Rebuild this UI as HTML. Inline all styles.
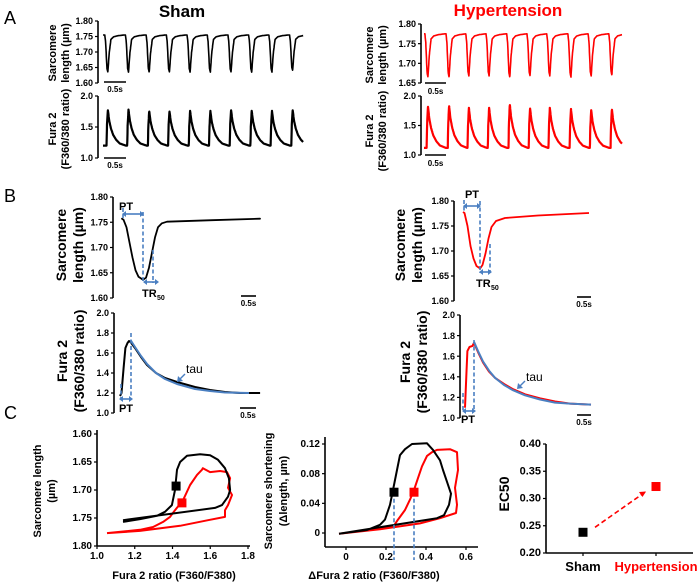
<!DOCTYPE html>
<html><head><meta charset="utf-8"><style>
html,body{margin:0;padding:0;background:#fff;}
svg{display:block;font-family:"Liberation Sans",Arial,sans-serif;}
</style></head><body>
<svg id="chart" width="700" height="583" viewBox="0 0 700 583" xmlns="http://www.w3.org/2000/svg">
<text x="4" y="24" font-size="18">A</text>
<text x="4" y="202" font-size="18">B</text>
<text x="4" y="419" font-size="18">C</text>
<text x="182" y="17" font-size="17" font-weight="bold" text-anchor="middle">Sham</text>
<text x="508" y="16" font-size="17" font-weight="bold" fill="#f00" text-anchor="middle">Hypertension</text>
</svg>
<script>
// ---------- data ----------
const shamBeatTimes=[0.11,0.58,1.05,1.51,1.98,2.44,2.91,3.38,3.84,4.31];
const shamSLRest=1.755, shamSLMin=[1.635,1.635,1.635,1.635,1.635,1.635,1.635,1.635,1.635,1.64];
const shamFuraBase=1.2, shamFuraPeak=[1.78,1.78,1.76,1.76,1.76,1.76,1.78,1.76,1.76,1.78];
const htBeatTimes=[0.09,0.57,1.02,1.48,1.95,2.41,2.86,3.34,3.80,4.27];
const htSLRest=1.775, htSLMin=[1.665,1.665,1.668,1.668,1.665,1.668,1.668,1.665,1.668,1.67];
const htFuraBase=1.12, htFuraPeak=[1.83,1.84,1.8,1.8,1.86,1.8,1.8,1.78,1.76,1.78];
const slTplT=[0,0.02,0.05,0.07,0.10,0.14,0.2,0.3,0.45];
const slTplF=[0,0.2,0.9,1,0.5,0.12,0.05,0.02,0];
const fuTplT=[0,0.01,0.03,0.06,0.1,0.15,0.22,0.3,0.44];
const fuTplF=[0,0.55,1,0.7,0.48,0.3,0.16,0.06,0];

const bShamSLT=[0,0.05,0.15,0.25,0.35,0.45,0.55,0.7,0.8,0.9,1.0,1.1,1.2,1.33,1.5,3,4.6];
const bShamSLV=[1.757,1.755,1.74,1.71,1.68,1.655,1.642,1.636,1.64,1.66,1.69,1.72,1.74,1.748,1.751,1.754,1.757];
const bShamFuT=[0,0.05,0.12,0.18,0.25,0.3,0.35,0.5,0.7,0.9,1.2,1.5,1.9,2.5,3.0,3.5,4.0,4.67];
const bShamFuV=[1.17,1.2,1.45,1.65,1.70,1.72,1.71,1.65,1.56,1.48,1.40,1.35,1.31,1.26,1.23,1.21,1.20,1.20];
const bShamFitT=[0.35,0.5,0.7,0.9,1.2,1.5,1.9,2.5,3,3.5,4.3];
const bShamFitV=[1.73,1.66,1.57,1.49,1.40,1.34,1.29,1.24,1.22,1.205,1.20];
const bHtSLT=[0,0.05,0.15,0.25,0.35,0.45,0.57,0.65,0.75,0.85,0.95,1.1,1.4,2.5,4.2];
const bHtSLV=[1.778,1.776,1.75,1.71,1.685,1.67,1.665,1.672,1.695,1.725,1.748,1.76,1.766,1.771,1.776];
const bHtFuT=[0,0.05,0.08,0.15,0.25,0.3,0.45,0.6,0.8,1.0,1.3,1.6,2.0,2.5,3,3.5,4.2];
const bHtFuV=[1.1,1.45,1.65,1.69,1.70,1.73,1.63,1.54,1.45,1.39,1.33,1.28,1.23,1.19,1.16,1.14,1.13];
const bHtFitT=[0.3,0.45,0.6,0.8,1.0,1.3,1.6,2.0,2.5,3,3.5,4.2];
const bHtFitV=[1.74,1.64,1.55,1.46,1.39,1.32,1.27,1.22,1.18,1.15,1.14,1.13];

const c1BlackX=[1.138,1.228,1.318,1.36,1.397,1.413,1.424,1.44,1.477,1.546,1.599,1.641,1.678,1.699,1.705,1.694,1.662,1.625,1.138];
const c1BlackY=[1.757,1.752,1.746,1.739,1.727,1.70,1.664,1.65,1.639,1.636,1.638,1.646,1.661,1.679,1.70,1.712,1.727,1.732,1.754];
const c1RedX=[1.053,1.228,1.297,1.35,1.387,1.413,1.456,1.493,1.53,1.556,1.561,1.599,1.652,1.689,1.705,1.694,1.715,1.694,1.678,1.678,1.588,1.44,1.228,1.053];
const c1RedY=[1.777,1.771,1.766,1.757,1.748,1.736,1.718,1.691,1.673,1.664,1.661,1.668,1.666,1.668,1.679,1.696,1.709,1.727,1.736,1.748,1.754,1.764,1.773,1.777];
const c1SquareX=[1.419,1.45], c1SquareY=[1.693,1.723];
const c2BlackX=[-0.035,0.105,0.17,0.195,0.22,0.235,0.255,0.27,0.295,0.33,0.405,0.435,0.47,0.485,0.505,0.525,0.515,0.49,0.455,-0.035];
const c2BlackY=[-0.001,0.004,0.011,0.018,0.038,0.058,0.085,0.105,0.113,0.12,0.121,0.112,0.098,0.085,0.069,0.053,0.038,0.024,0.02,-0.001];
const c2RedX=[-0.035,0.235,0.26,0.295,0.32,0.34,0.36,0.38,0.405,0.43,0.455,0.52,0.555,0.56,0.545,0.555,0.55,0.47,0.37,0.17,-0.035];
const c2RedY=[-0.001,0.008,0.018,0.031,0.045,0.058,0.074,0.09,0.104,0.109,0.112,0.113,0.109,0.085,0.061,0.038,0.027,0.02,0.013,0.005,-0.001];
const c2SquareX=[0.24,0.34], c2SquareY=[0.055,0.055];
const ec50Groups=["Sham","Hypertension"];
const ec50Values=[0.238,0.322];

// ---------- helpers ----------
const NS="http://www.w3.org/2000/svg";
const svg=document.getElementById('chart');
function lin(d0,d1,r0,r1){return v=>r0+(v-d0)*(r1-r0)/(d1-d0);}
function el(tag,attrs,name){
  const e=document.createElementNS(NS,tag);
  for(const k in attrs) e.setAttribute(k,attrs[k]);
  
  
  svg.appendChild(e);return e;
}
function txt(x,y,s,attrs,name){const e=el('text',Object.assign({x:x,y:y},attrs||{}),name);e.textContent=s;return e;}
function path(pts,stroke,w,name,extra){
  const d=pts.map((p,i)=>(i?'L':'M')+p[0].toFixed(1)+' '+p[1].toFixed(1)).join('');
  return el('path',Object.assign({d:d,fill:'none',stroke:stroke,'stroke-width':w,'stroke-linejoin':'round'},extra||{}),name);
}
function interp(T,F,t){if(t<=T[0]||t>=T[T.length-1])return 0;for(let i=1;i<T.length;i++){if(t<=T[i]){const f=(t-T[i-1])/(T[i]-T[i-1]);return F[i-1]+f*(F[i]-F[i-1]);}}return 0;}
function yAxis(x,sy,ticks,fmt,top,bot,name,fs){
  el('line',{x1:x,y1:top,x2:x,y2:bot,stroke:'#000','stroke-width':1.6},name+'-line');
  ticks.forEach(t=>{const y=sy(t);
    el('line',{x1:x-3,y1:y,x2:x,y2:y,stroke:'#000','stroke-width':1.2},name+'-tick');
    txt(x-5,y+3.2,fmt(t),{'text-anchor':'end','font-size':fs||9,'font-weight':'bold'},name+'-label');});
}
function scaleBar(x1,x2,y,ly,name){
  el('line',{x1:x1,y1:y,x2:x2,y2:y,stroke:'#000','stroke-width':1.6},name);
  txt((x1+x2)/2,ly,'0.5s',{'text-anchor':'middle','font-size':8,'font-weight':'bold'},name+'-label');
}
function vlabel(cx,cy,s,fs,name,fill){txt(cx,cy,s,{'text-anchor':'middle','font-size':fs,'font-weight':'bold',transform:'rotate(-90 '+cx+' '+cy+')',fill:fill||'#000'},name);}
function beatTrace(times,rest,amp,sign,T,F,off,tEnd,sx,sy){
  const pts=[];for(let t=0;t<=tEnd;t+=0.004){let v=rest;times.forEach((b,i)=>{v+=sign*Math.abs(amp[i]-rest)*interp(T,F,t-(b-off));});pts.push([sx(t),sy(v)]);}return pts;
}
const BLUE='#4a7fc1';
function dash(x,y1,y2,name){el('line',{x1:x,y1:y1,x2:x,y2:y2,stroke:BLUE,'stroke-width':1.6,'stroke-dasharray':'4 2.5'},name);}
function darrow(x1,x2,y,name){
  el('line',{x1:x1+3,y1:y,x2:x2-3,y2:y,stroke:BLUE,'stroke-width':1.6},name);
  el('path',{d:`M${x1} ${y}l4 -3v6z M${x2} ${y}l-4 -3v6z`,fill:BLUE},name+'-heads');
}

// ---------- Panel A ----------
const fmt2=v=>v.toFixed(2), fmt1=v=>v.toFixed(1);
let sx=lin(0,1,103,147), sy=lin(1.6,1.8,83,21);
yAxis(98,sy,[1.6,1.65,1.7,1.75,1.8],fmt2,21,83,'a-sham-sl-axis');
path(beatTrace(shamBeatTimes,shamSLRest,shamSLMin,-1,slTplT,slTplF,0.07,4.55,sx,sy),'#000',1.6,'a-sham-sl-trace');
scaleBar(104,126,82,92,'a-sham-sl-scalebar');
vlabel(56,53,'Sarcomere',11,'a-sham-sl-title');vlabel(69,53,'length (µm)',11,'a-sham-sl-title-2');
sy=lin(1,2,158,96);
yAxis(98,sy,[1,1.5,2],fmt1,96,158,'a-sham-fura-axis');
path(beatTrace(shamBeatTimes,shamFuraBase,shamFuraPeak,1,fuTplT,fuTplF,0.03,4.55,sx,sy),'#000',2.2,'a-sham-fura-trace');
scaleBar(104,126,158,168,'a-sham-fura-scalebar');
vlabel(56,129,'Fura 2',11,'a-sham-fura-title');vlabel(69,129,'(F360/380 ratio)',11,'a-sham-fura-title-2');

sx=lin(0,1,424,468); sy=lin(1.65,1.8,83,24);
yAxis(421,sy,[1.65,1.7,1.75,1.8],fmt2,24,83,'a-ht-sl-axis');
path(beatTrace(htBeatTimes,htSLRest,htSLMin,-1,slTplT,slTplF,0.07,4.5,sx,sy),'#f00',1.6,'a-ht-sl-trace');
scaleBar(425,446,83,94,'a-ht-sl-scalebar');
vlabel(373,55,'Sarcomere',11,'a-ht-sl-title');vlabel(386,55,'length (µm)',11,'a-ht-sl-title-2');
sy=lin(1,2,155,96);
yAxis(421,sy,[1,1.5,2],fmt1,96,155,'a-ht-fura-axis');
path(beatTrace(htBeatTimes,htFuraBase,htFuraPeak,1,fuTplT,fuTplF,0.03,4.5,sx,sy),'#f00',2.2,'a-ht-fura-trace');
scaleBar(425,446,155,166,'a-ht-fura-scalebar');
vlabel(373,131,'Fura 2',11,'a-ht-fura-title');vlabel(386,131,'(F360/380 ratio)',11,'a-ht-fura-title-2');

// ---------- Panel B ----------
sx=lin(0,1,122,152); sy=lin(1.6,1.8,298,197);
yAxis(113,sy,[1.6,1.65,1.7,1.75,1.8],fmt2,197,298,'b-sham-sl-axis');
path(bShamSLT.map((t,i)=>[sx(t),sy(bShamSLV[i])]),'#000',1.8,'b-sham-sl-trace',{'stroke-linecap':'round'});
dash(123,208,218,'b-sham-pt-start');dash(143,212,283,'b-sham-pt-end');dash(153,250,283,'b-sham-tr50-line');
darrow(122,144,214,'b-sham-pt-arrow');darrow(143,159,282,'b-sham-tr50-arrow');
txt(119,210,'PT',{'font-size':11,'font-weight':'bold'},'b-sham-pt-label');
txt(142,297,'TR',{'font-size':11,'font-weight':'bold'},'b-sham-tr50-label');
txt(157,300,'50',{'font-size':7,'font-weight':'bold'},'b-sham-tr50-sub');
scaleBar(241,256,296,306,'b-sham-sl-scalebar');
vlabel(66,245,'Sarcomere',14,'b-sham-sl-title');vlabel(83,245,'length (µm)',14,'b-sham-sl-title-2');

sx=lin(0,1,120,150); sy=lin(1,2,413,313);
yAxis(114,sy,[1,1.2,1.4,1.6,1.8,2],fmt1,313,413,'b-sham-fura-axis');
path(bShamFuT.map((t,i)=>[sx(t),sy(bShamFuV[i])]),'#000',2,'b-sham-fura-trace');
path(bShamFitT.map((t,i)=>[sx(t),sy(bShamFitV[i])]),BLUE,2,'b-sham-fura-fit');
dash(121,384,398,'b-sham-fura-pt-start');dash(131,333,398,'b-sham-fura-pt-end');
darrow(119,133,399,'b-sham-fura-pt-arrow');
txt(126,412,'PT',{'font-size':11,'font-weight':'bold','text-anchor':'middle'},'b-sham-fura-pt-label');
el('line',{x1:185,y1:374,x2:178,y2:381,stroke:BLUE,'stroke-width':1.4},'b-sham-tau-arrow');
el('path',{d:'M177 382l1 -6l5 5z',fill:BLUE},'b-sham-tau-head');
txt(186,373,'tau',{'font-size':12},'b-sham-tau-label');
scaleBar(240,256,408,418,'b-sham-fura-scalebar');
vlabel(67,361,'Fura 2',14,'b-sham-fura-title');vlabel(84,361,'(F360/380 ratio)',14,'b-sham-fura-title-2');

sx=lin(0,1,463,493); sy=lin(1.6,1.8,301,201);
yAxis(454,sy,[1.6,1.65,1.7,1.75,1.8],fmt2,201,301,'b-ht-sl-axis');
path(bHtSLT.map((t,i)=>[sx(t),sy(bHtSLV[i])]),'#f00',1.8,'b-ht-sl-trace');
dash(464,200,211,'b-ht-pt-start');dash(480,201,273,'b-ht-pt-end');dash(490,244,273,'b-ht-tr50-line');
darrow(463,481,206,'b-ht-pt-arrow');darrow(479,492,272,'b-ht-tr50-arrow');
txt(472,198,'PT',{'font-size':11,'font-weight':'bold','text-anchor':'middle'},'b-ht-pt-label');
txt(476,287,'TR',{'font-size':11,'font-weight':'bold'},'b-ht-tr50-label');
txt(491,290,'50',{'font-size':7,'font-weight':'bold'},'b-ht-tr50-sub');
scaleBar(577,591,297,307,'b-ht-sl-scalebar');
vlabel(405,245,'Sarcomere',14,'b-ht-sl-title');vlabel(422,245,'length (µm)',14,'b-ht-sl-title-2');

sx=lin(0,1,465,495); sy=lin(1,2,418,315);
yAxis(460,sy,[1,1.2,1.4,1.6,1.8,2],fmt1,315,418,'b-ht-fura-axis');
path(bHtFuT.map((t,i)=>[sx(t),sy(bHtFuV[i])]),'#f00',2,'b-ht-fura-trace');
path(bHtFitT.map((t,i)=>[sx(t),sy(bHtFitV[i])]),BLUE,2,'b-ht-fura-fit');
dash(463,393,410,'b-ht-fura-pt-start');dash(474,340,410,'b-ht-fura-pt-end');
darrow(462,476,411,'b-ht-fura-pt-arrow');
txt(468,423,'PT',{'font-size':11,'font-weight':'bold','text-anchor':'middle'},'b-ht-fura-pt-label');
el('line',{x1:525,y1:381,x2:518,y2:388,stroke:BLUE,'stroke-width':1.4},'b-ht-tau-arrow');
el('path',{d:'M517 389l1 -6l5 5z',fill:BLUE},'b-ht-tau-head');
txt(526,381,'tau',{'font-size':12},'b-ht-tau-label');
scaleBar(577,591,415,425,'b-ht-fura-scalebar');
vlabel(410,362,'Fura 2',14,'b-ht-fura-title');vlabel(427,362,'(F360/380 ratio)',14,'b-ht-fura-title-2');

// ---------- Panel C1 ----------
function xAxis(y,sx,ticks,fmt,x0,x1,name){
  el('line',{x1:x0,y1:y,x2:x1,y2:y,stroke:'#000','stroke-width':1.6},name+'-line');
  ticks.forEach(t=>{const x=sx(t);
    el('line',{x1:x,y1:y,x2:x,y2:y+3,stroke:'#000','stroke-width':1.2},name+'-tick');
    txt(x,y+13,fmt(t),{'text-anchor':'middle','font-size':10,'font-weight':'bold'},name+'-label');});
}
sx=lin(1,1.8,97,248); sy=lin(1.6,1.8,434,546);
yAxis(97,sy,[1.6,1.65,1.7,1.75,1.8],fmt2,430,546,'c1-y-axis',10);
xAxis(546,sx,[1,1.2,1.4,1.6,1.8],fmt1,97,250,'c1-x-axis');
path(c1RedX.map((v,i)=>[sx(v),sy(c1RedY[i])]),'#f00',2,'c1-hypertension-loop');
path(c1BlackX.map((v,i)=>[sx(v),sy(c1BlackY[i])]),'#000',2,'c1-sham-loop');
['#000','#f00'].forEach((c,i)=>{el('rect',{x:sx(c1SquareX[i])-4.5,y:sy(c1SquareY[i])-4.5,width:9,height:9,fill:c},'c1-ec50-marker');});
vlabel(41,491,'Sarcomere length',11,'c1-y-title');vlabel(55,491,'(µm)',11,'c1-y-title-2');
txt(174,579,'Fura 2 ratio (F360/F380)',{'text-anchor':'middle','font-size':11,'font-weight':'bold'},'c1-x-title');

// ---------- Panel C2 ----------
sx=lin(0,0.6,346,466); sy=lin(0,0.12,533,444);
yAxis(325,sy,[0,0.04,0.08,0.12],v=>v===0?'0':v.toFixed(2),437,547,'c2-y-axis',10);
xAxis(547,sx,[0,0.2,0.4,0.6],v=>v===0?'0':v.toFixed(1),325,478,'c2-x-axis');
path(c2RedX.map((v,i)=>[sx(v),sy(c2RedY[i])]),'#f00',2,'c2-hypertension-loop');
path(c2BlackX.map((v,i)=>[sx(v),sy(c2BlackY[i])]),'#000',2,'c2-sham-loop');
['#000','#f00'].forEach((c,i)=>{
  dash(sx(c2SquareX[i]),sy(c2SquareY[i]),560,'c2-ec50-dropline');
  el('rect',{x:sx(c2SquareX[i])-4.5,y:sy(c2SquareY[i])-4.5,width:9,height:9,fill:c},'c2-ec50-marker');});
vlabel(272,491,'Sarcomere shortening',11,'c2-y-title');vlabel(287,491,'(\u0394length, µm)',11,'c2-y-title-2');
txt(374,579,'\u0394Fura 2 ratio (F360/F380)',{'text-anchor':'middle','font-size':11,'font-weight':'bold'},'c2-x-title');

// ---------- Panel C3 ----------
const gx=lin(0,1,583,656); sy=lin(0.2,0.4,553,444);
yAxis(546,sy,[0.2,0.25,0.3,0.35,0.4],fmt2,444,553,'c3-y-axis',11);
el('line',{x1:546,y1:553,x2:693,y2:553,stroke:'#000','stroke-width':1.6},'c3-x-axis');
ec50Groups.forEach((g,i)=>{
  el('line',{x1:gx(i),y1:553,x2:gx(i),y2:556,stroke:'#000','stroke-width':1.2},'c3-x-tick');
  txt(gx(i),571,g,{'text-anchor':'middle','font-size':13,'font-weight':'bold',fill:i?'#f00':'#000'},'c3-x-label-'+g.toLowerCase());
});
const ax1=gx(0)+12, ay1=sy(ec50Values[0])-5, ax2=gx(1)-10, ay2=sy(ec50Values[1])+5;
el('line',{x1:ax1,y1:ay1,x2:ax2,y2:ay2,stroke:'#f00','stroke-width':1.6,'stroke-dasharray':'5 3'},'c3-trend-arrow');
el('path',{d:`M${ax2} ${ay2}l-7 0.5l3.5 5z`,fill:'#f00'},'c3-trend-arrow-head');
ec50Values.forEach((v,i)=>{el('rect',{x:gx(i)-4.5,y:sy(v)-4.5,width:9,height:9,fill:i?'#f00':'#000'},'c3-ec50-point');});
vlabel(509,494,'EC50',14,'c3-y-title');
</script>
</body></html>
